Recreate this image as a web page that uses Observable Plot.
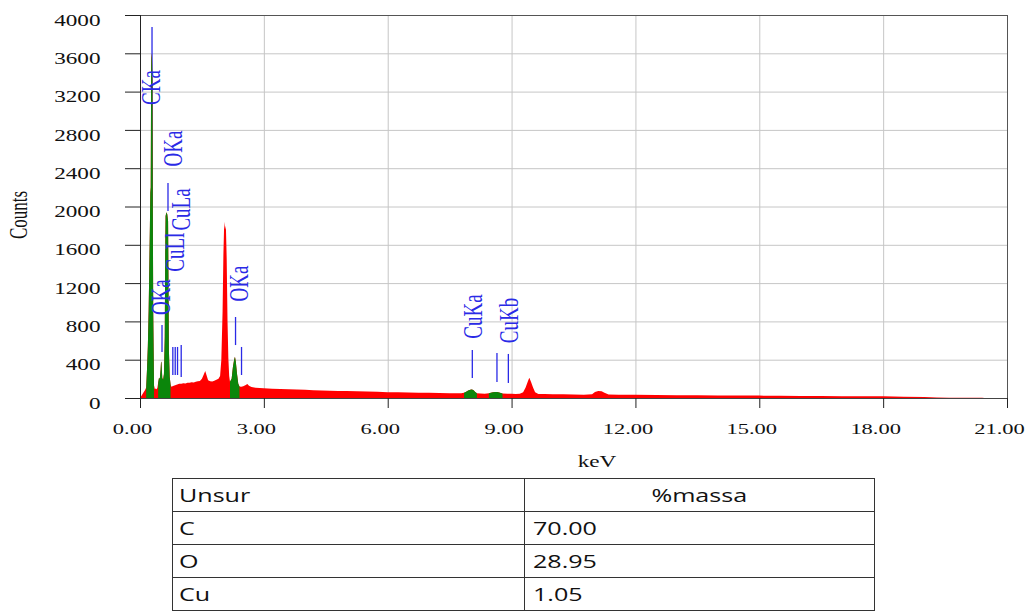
<!DOCTYPE html>
<html>
<head>
<meta charset="utf-8">
<script src="https://cdn.jsdelivr.net/npm/d3@7"></script>
<script src="https://cdn.jsdelivr.net/npm/@observablehq/plot@0.6"></script>
<style>
  html, body { margin: 0; padding: 0; background: #fff; }
  #wrap { position: relative; width: 1029px; height: 612px; overflow: hidden; }
  #chart svg { display: block; }
  table.mass { position: absolute; left: 172px; top: 478px; border-collapse: collapse;
    font-family: "Open Sans", sans-serif; font-size: 19px; color: #111; }
  table.mass td { border: 1px solid #333; height: 33px; padding: 0; vertical-align: middle; }
  table.mass td.c1 { width: 352px; padding-left: 6px; box-sizing: border-box; }
  table.mass td.c2 { width: 350px; padding-left: 8px; box-sizing: border-box; }
  table.mass td.h2 { text-align: center; padding-left: 0; }
  table.mass span { display: inline-block; transform: scaleX(1.32); transform-origin: left center; }
  table.mass td.h2 span { transform-origin: center center; }
</style>
</head>
<body>
<div id="wrap">
  <div id="chart"></div>
  <table class="mass" id="tbl"></table>
</div>
<script>
// ---- spectrum (energy in keV, counts) ----
const keV = [0.00,0.04,0.08,0.12,0.15,0.17,0.19,0.21,0.23,0.24,0.25,0.26,0.27,0.28,0.29,0.30,0.31,0.32,0.34,0.36,0.38,0.40,0.42,
  0.44,0.46,0.48,0.50,0.51,0.52,0.54,0.56,0.58,0.60,0.61,0.62,0.64,0.66,0.68,0.69,0.70,0.72,0.74,0.76,0.80,0.85,0.90,0.95,
  1.00,1.05,1.10,1.15,1.20,1.25,1.30,1.35,1.40,1.45,1.50,1.55,1.58,1.61,1.65,1.70,1.75,1.80,1.85,1.90,1.94,1.97,
  2.00,2.02,2.04,2.06,2.08,2.10,2.12,2.14,2.16,2.18,2.22,2.25,2.28,2.30,2.32,2.35,2.38,2.41,2.45,2.50,2.55,2.60,
  2.64,2.70,2.80,2.90,3.00,3.20,3.40,3.60,3.80,4.00,4.20,4.40,4.60,4.80,5.00,5.25,5.50,5.75,6.00,6.25,6.50,6.75,
  7.00,7.25,7.50,7.78,7.85,7.90,7.95,8.00,8.04,8.08,8.12,8.16,8.25,8.35,8.45,8.50,8.55,8.60,8.65,8.70,8.78,8.90,
  9.00,9.10,9.20,9.28,9.34,9.40,9.43,9.47,9.52,9.57,9.65,9.80,10.00,10.25,10.50,10.75,10.95,11.02,11.10,11.18,
  11.25,11.35,11.60,12.00,12.50,13.00,13.50,14.00,14.50,15.00,15.50,16.00,16.50,17.00,17.50,18.00,18.50,19.00,
  19.30,19.60,20.40,20.45];
const counts = [0,25,55,80,110,300,540,920,1500,1800,2140,2200,3450,3600,3550,3300,2100,900,130,95,100,92,105,
  160,210,200,300,380,370,210,190,250,640,1500,1900,1940,1920,1850,1200,500,220,140,118,125,132,140,150,
  148,155,152,160,158,165,162,170,175,178,200,250,282,240,185,175,172,180,190,200,230,400,
  900,1500,1840,1760,1800,1450,800,420,230,170,200,320,400,431,380,250,150,120,118,122,132,146,
  128,114,108,104,101,97,94,91,88,85,82,79,76,74,72,70,67,64,61,59,57,56,
  54,52,50,49,55,65,78,86,90,80,62,50,46,45,50,56,60,63,62,57,48,45,
  44,43,45,60,110,180,212,170,110,60,42,41,39,38,36,35,40,62,73,70,
  55,36,34,33,31,30,28,27,26,25,23,22,20,19,18,17,14,11,
  6,3,2,0];

// identified peak regions (green)
const roiFrom = [0.15, 0.44, 2.18, 7.85, 8.45];
const roiTo   = [0.34, 0.74, 2.41, 8.16, 8.78];

// peak labels
const labelText   = ["CKa", "OKa", "CuLa", "CuLl", "OKa", "OKa", "CuKa", "CuKb"];
const labelKeV    = [0.267, 0.80, 0.98, 0.85, 0.51, 2.40, 8.07, 8.92];
const labelCounts = [3248, 2611, 1974, 1528, 1058, 1201, 856, 815];

// marker lines
const markerKeV    = [0.279, 0.666, 0.521, 0.783, 0.841, 0.897, 0.986, 2.302, 2.447, 8.037, 8.634, 8.910];
const markerTop    = [3875, 2245, 762, 533, 533, 533, 553, 846, 533, 501, 470, 460];
const markerBottom = [2000, 1953, 480, 240, 240, 240, 219, 553, 240, 209, 167, 157];

// axes
const xTicks = [0, 3, 6, 9, 12, 15, 18, 21];
const yTicks = [0, 400, 800, 1200, 1600, 2000, 2400, 2800, 3200, 3600, 4000];
const xGrid = [3, 6, 9, 12, 15, 18];
const yGrid = [400, 800, 1200, 1600, 2000, 2400, 2800, 3200, 3600];

// table
const unsur = ["C", "O", "Cu"];
const massa = ["70.00", "28.95", "1.05"];

const spectrum = keV.map((k, i) => ({keV: k, counts: counts[i]}));
const labels = labelText.map((t, i) => ({text: t, keV: labelKeV[i], counts: labelCounts[i]}));
const markers = markerKeV.map((k, i) => ({keV: k, y1: markerBottom[i], y2: markerTop[i]}));

const RED = "#ff0000", GREEN = "#0b860b", BLUE = "#2a2ae6";
const SERIF = '"Liberation Serif", "Times New Roman", serif';

const greenMarks = roiFrom.map((a, j) =>
  Plot.areaY(spectrum.filter(d => d.keV >= a && d.keV <= roiTo[j]), {x: "keV", y: "counts", fill: GREEN}));

const plot = Plot.plot({
  width: 1029,
  height: 478,
  marginLeft: 140,
  marginRight: 22,
  marginTop: 15,
  marginBottom: 80,
  style: {fontFamily: SERIF, fontSize: "16px", background: "white", color: "black", overflow: "visible"},
  x: {domain: [0, 21], axis: null, label: null},
  y: {domain: [0, 4000], axis: null, label: null},
  marks: [
    Plot.gridX(xGrid, {stroke: "#c6c6c6", strokeOpacity: 1}),
    Plot.gridY(yGrid, {stroke: "#c6c6c6", strokeOpacity: 1}),
    Plot.frame({stroke: "#555"}),
    Plot.ruleX(markers, {x: "keV", y1: "y1", y2: "y2", stroke: BLUE, strokeWidth: 1.3}),
    Plot.areaY(spectrum, {x: "keV", y: "counts", fill: RED}),
    ...greenMarks,
    Plot.text(labels, {x: "keV", y: "counts", text: "text", rotate: -90, fill: BLUE, fontSize: 19, fontFamily: SERIF}),
    Plot.ruleX([0], {stroke: "#222"}),
    Plot.ruleY([0], {stroke: "#444"}),
    Plot.axisY({ticks: yTicks, tickSize: 15, fill: "none", stroke: "#222"}),
    Plot.axisY({ticks: yTicks, tickSize: 0, tickPadding: 40, dy: 5, fill: "#111", fontSize: 16, fontFamily: SERIF,
      fontVariant: "normal", tickFormat: d3.format("d")}),
    Plot.axisX({ticks: xTicks, tickSize: 10, fill: "none", stroke: "#222"}),
    Plot.axisX({ticks: xTicks, tickSize: 0, tickPadding: 24, dx: -8, fill: "#111", fontSize: 15.5, fontFamily: SERIF,
      fontVariant: "normal", tickFormat: d3.format(".2f")}),
    Plot.text(["Counts"], {frameAnchor: "left", dx: -121, dy: 32, rotate: -90, fill: "#111", fontSize: 17, fontFamily: SERIF}),
    Plot.text(["keV"], {frameAnchor: "bottom", dx: 23, dy: 68, fill: "#111", fontSize: 16, fontFamily: SERIF})
  ]
});

// the reference image is stretched horizontally: widen every text glyph the same way
plot.querySelectorAll("text").forEach(t => {
  const tr = t.getAttribute("transform");
  if (tr && /^translate\(/.test(tr)) {
    t.setAttribute("transform", tr.replace(/^(translate\([^)]*\))/, "$1 scale(1.45,1)"));
  } else {
    const x = +(t.getAttribute("x") || 0), y = +(t.getAttribute("y") || 0);
    t.removeAttribute("x"); t.removeAttribute("y");
    t.setAttribute("transform", `translate(${x},${y}) scale(1.45,1)` + (tr ? " " + tr : ""));
  }
});

document.getElementById("chart").appendChild(plot);

// table
const tbl = document.getElementById("tbl");
const header = document.createElement("tr");
header.innerHTML = `<td class="c1"><span>Unsur</span></td><td class="c2 h2"><span>%massa</span></td>`;
tbl.appendChild(header);
unsur.forEach((u, i) => {
  const tr = document.createElement("tr");
  tr.innerHTML = `<td class="c1"><span>${u}</span></td><td class="c2"><span>${massa[i]}</span></td>`;
  tbl.appendChild(tr);
});
</script>
</body>
</html>
